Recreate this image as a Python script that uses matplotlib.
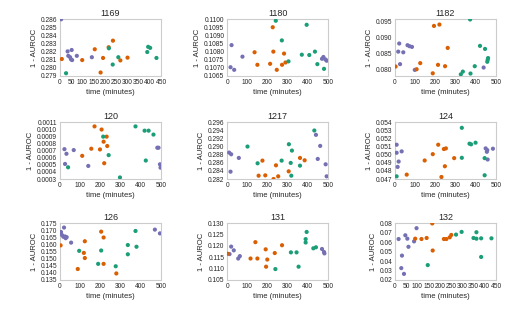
import matplotlib
matplotlib.use("Agg")
import matplotlib.pyplot as plt
import numpy as np

# colours of the three run groups
colors = ['#7570b3', '#d95f02', '#1b9e77']

titles = ['1169', '1180', '1182', '120', '1217', '124', '126', '131', '132']

# each panel: time (minutes), 1 - AUROC, group (0 purple, 1 orange, 2 green)
t_1169 = [5, 34, 37, 52, 45, 49, 54, 75, 142,
          8, 99, 155, 181, 192, 217, 236, 269, 301,
          27, 218, 235, 260, 389, 393, 402, 430]
v_1169 = [0.28598, 0.28203, 0.28148, 0.28220, 0.28131, 0.28105, 0.28096, 0.28148, 0.28131,
          0.28109, 0.28096, 0.28229, 0.27943, 0.28122, 0.28254, 0.28335, 0.28092, 0.28126,
          0.27934, 0.28241, 0.28041, 0.28131, 0.28195, 0.28259, 0.28246, 0.28122]
g_1169 = [0] * 9 + [1] * 9 + [2] * 8

t_1180 = [22, 17, 35, 76, 470, 477, 487, 493,
          136, 150, 213, 229, 226, 246, 272, 282, 289,
          241, 271, 304, 370, 394, 407, 435, 447, 480]
v_1180 = [0.10840, 0.10704, 0.10688, 0.10769, 0.10756, 0.10767, 0.10752, 0.10744,
          0.10796, 0.10719, 0.10725, 0.10800, 0.10950, 0.10688, 0.10719, 0.10788, 0.10733,
          0.10990, 0.10869, 0.10740, 0.10781, 0.10965, 0.10779, 0.10800, 0.10723, 0.10694]
g_1180 = [0] * 8 + [1] * 9 + [2] * 9

t_1182 = [21, 16, 41, 25, 62, 72, 84, 98, 439,
          3, 107, 125, 193, 220, 187, 213, 248, 261,
          372, 326, 336, 374, 395, 421, 446, 459, 461, 457]
v_1182 = [0.08814, 0.08557, 0.08536, 0.08161, 0.08761, 0.08729, 0.08707, 0.07979, 0.08054,
          0.08086, 0.08000, 0.08193, 0.09371, 0.09414, 0.07871, 0.08139, 0.08096, 0.08675,
          0.09575, 0.07839, 0.07925, 0.07864, 0.08096, 0.08739, 0.08643, 0.08300, 0.08354, 0.08236]
g_1182 = [0] * 9 + [1] * 9 + [2] * 10

t_120 = [22, 32, 25, 68, 140, 482, 488, 495, 498,
         110, 155, 171, 198, 206, 219, 216, 231, 234,
         40, 214, 241, 297, 374, 419, 439, 425, 463]
v_120 = [0.000720, 0.000655, 0.000512, 0.000707, 0.000484, 0.000740, 0.000740, 0.000507, 0.000460,
         0.000626, 0.000726, 0.001040, 0.000716, 0.000996, 0.000522, 0.000825, 0.000896, 0.000764,
         0.000465, 0.000896, 0.000636, 0.000322, 0.001040, 0.000980, 0.000980, 0.000560, 0.000925]
g_120 = [0] * 9 + [1] * 9 + [2] * 9

t_1217 = [10, 20, 17, 58, 440, 461, 449, 488, 493,
          156, 175, 189, 230, 242, 253, 305, 361, 384,
          101, 151, 270, 306, 321, 315, 318, 361, 432]
v_1217 = [0.28850, 0.28809, 0.28381, 0.28719, 0.29287, 0.29015, 0.28694, 0.28562, 0.28266,
          0.28282, 0.28653, 0.28290, 0.28200, 0.28537, 0.28266, 0.28389, 0.28719, 0.28661,
          0.28999, 0.28587, 0.28653, 0.29056, 0.28900, 0.28596, 0.28282, 0.28529, 0.29394]
g_1217 = [0] * 9 + [1] * 9 + [2] * 9

t_124 = [8, 8, 33, 18, 13, 449, 455, 457, 459, 485,
         58, 147, 187, 214, 230, 242, 252, 247, 293,
         8, 331, 331, 369, 377, 399, 444, 444]
v_124 = [0.05122, 0.05023, 0.05040, 0.04915, 0.04849, 0.05077, 0.05035, 0.05056, 0.04940, 0.05073,
         0.04754, 0.04928, 0.05006, 0.05122, 0.04725, 0.05069, 0.05077, 0.04857, 0.04957,
         0.04733, 0.05330, 0.04961, 0.05135, 0.05127, 0.05147, 0.04957, 0.04746]
g_124 = [0] * 10 + [1] * 9 + [2] * 8

t_126 = [5, 10, 17, 20, 25, 28, 33, 55, 470, 495,
         3, 88, 123, 118, 123, 204, 216, 216, 279,
         95, 189, 204, 276, 336, 336, 374, 379]
v_126 = [0.16873, 0.16657, 0.16536, 0.17187, 0.16560, 0.16440, 0.16512, 0.16127, 0.17042, 0.16777,
         0.15934, 0.14271, 0.16223, 0.15404, 0.15042, 0.16898, 0.16488, 0.14633, 0.13958,
         0.15548, 0.14633, 0.15572, 0.14464, 0.15958, 0.15307, 0.16946, 0.15837]
g_126 = [0] * 10 + [1] * 9 + [2] * 8

t_131 = [12, 20, 33, 55, 63, 470, 480, 482,
         2, 116, 140, 150, 191, 193, 199, 236, 272,
         239, 316, 344, 354, 389, 389, 394, 427, 440]
v_131 = [0.11638, 0.11967, 0.11802, 0.11443, 0.11548, 0.11862, 0.11728, 0.11668,
         0.11653, 0.11443, 0.12162, 0.11443, 0.11847, 0.11084, 0.11398, 0.11683, 0.12027,
         0.10979, 0.11713, 0.11713, 0.11084, 0.12296, 0.12147, 0.12611, 0.11892, 0.11937]
g_131 = [0] * 8 + [1] * 9 + [2] * 9

t_132 = [16, 31, 28, 40, 46, 55, 60, 85, 96,
         90, 118, 141, 166, 168, 218, 229, 244, 251,
         146, 272, 297, 350, 363, 363, 384, 384, 430]
v_132 = [0.06321, 0.04571, 0.03250, 0.02643, 0.06714, 0.06357, 0.05500, 0.06071, 0.07464,
         0.06357, 0.06321, 0.06429, 0.07964, 0.05107, 0.06321, 0.06321, 0.06500, 0.06750,
         0.03571, 0.06786, 0.07071, 0.06429, 0.07036, 0.06357, 0.06393, 0.04429, 0.06393]
g_132 = [0] * 9 + [1] * 9 + [2] * 9

times = [t_1169, t_1180, t_1182, t_120, t_1217, t_124, t_126, t_131, t_132]
values = [v_1169, v_1180, v_1182, v_120, v_1217, v_124, v_126, v_131, v_132]
groups = [g_1169, g_1180, g_1182, g_120, g_1217, g_124, g_126, g_131, g_132]

xlims = [(0, 450), (0, 500), (0, 500), (0, 500), (0, 500), (0, 500), (0, 500), (0, 500), (0, 450)]
xsteps = [50, 100, 100, 100, 100, 100, 100, 100, 50]
ylims = [(0.279, 0.286), (0.1065, 0.1100), (0.07786, 0.09586), (0.0003, 0.0011),
         (0.282, 0.296), (0.047, 0.054), (0.135, 0.175), (0.105, 0.130), (0.02, 0.08)]
# y tick start, stop, step, decimals
yticks = [(0.279, 0.286, 0.001, 3), (0.1065, 0.1100, 0.0005, 4), (0.080, 0.095, 0.005, 3),
          (0.0003, 0.0011, 0.0001, 4), (0.282, 0.296, 0.002, 3), (0.047, 0.054, 0.001, 3),
          (0.135, 0.175, 0.005, 3), (0.105, 0.130, 0.005, 3), (0.02, 0.08, 0.01, 2)]

plt.rcParams['font.family'] = ['Liberation Sans', 'DejaVu Sans']
plt.rcParams['text.color'] = '#262626'
plt.rcParams['axes.labelcolor'] = '#262626'

fig = plt.figure(figsize=(5.15, 3.16), dpi=100)

lefts = [0.1165, 0.441, 0.767]
bottoms = [0.7595, 0.4335, 0.114]

for i in range(9):
    ax = fig.add_axes([lefts[i % 3], bottoms[i // 3], 0.196, 0.180])
    cols = [colors[g] for g in groups[i]]
    ax.scatter(times[i], values[i], c=cols, s=9, linewidths=0, zorder=3)
    ax.set_xlim(*xlims[i])
    ax.set_ylim(*ylims[i])
    ax.set_xticks(range(0, xlims[i][1] + 1, xsteps[i]))
    y0, y1, st, dec = yticks[i]
    ticks = np.round(np.arange(y0, y1 + st / 2, st), dec)
    ax.set_yticks(ticks)
    ax.set_yticklabels([f'{t:.{dec}f}' for t in ticks])
    ax.set_ylim(*ylims[i])
    ax.set_title(titles[i], fontsize=6.5, pad=2)
    ax.set_xlabel('time (minutes)', fontsize=5.5, labelpad=2)
    ax.set_ylabel('1 - AUROC', fontsize=5.5, labelpad=2)
    ax.tick_params(labelsize=4.8, length=0, pad=2, colors='#262626')
    for sp in ax.spines.values():
        sp.set_color('#cccccc')
        sp.set_linewidth(0.8)

fig.savefig('out.png', dpi=100)
